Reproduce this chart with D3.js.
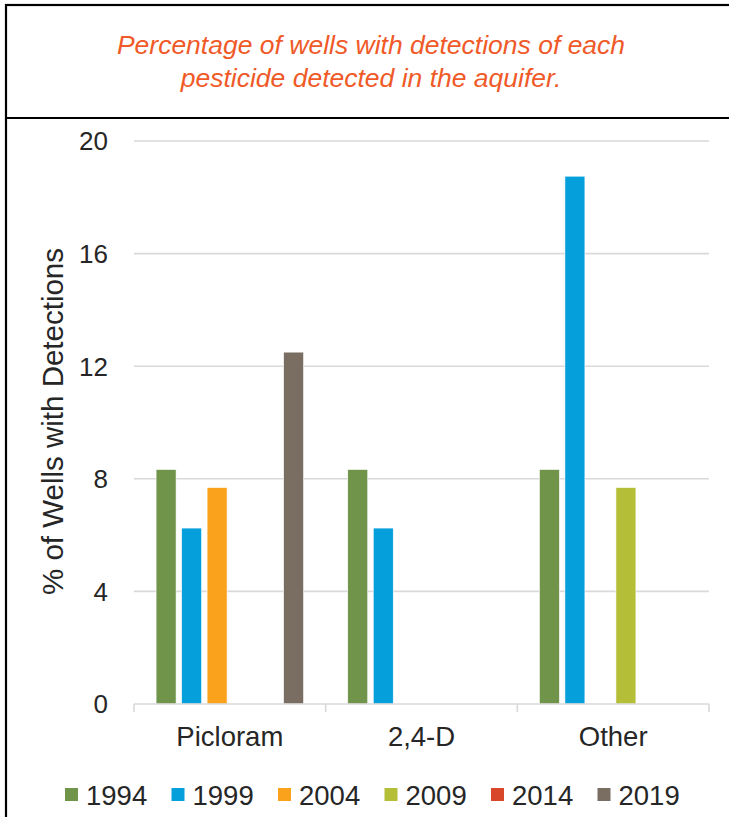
<!DOCTYPE html>
<html>
<head>
<meta charset="utf-8">
<script src="https://cdn.jsdelivr.net/npm/d3@7"></script>
<style>
  html, body { margin: 0; padding: 0; background: #fff; }
  svg { display: block; font-family: "Liberation Sans", Arial, sans-serif; }
</style>
</head>
<body>
<svg id="chart" width="729" height="817"></svg>
<script>
const titleLines = ["Percentage of wells with detections of each", "pesticide detected in the aquifer."];
const categories = ["Picloram", "2,4-D", "Other"];
const years = ["1994", "1999", "2004", "2009", "2014", "2019"];
const colors = ["#70944a", "#059fdb", "#faa21b", "#b4bf37", "#d9472b", "#7a6e63"];
const values1994 = [8.33, 8.33, 8.33];
const values1999 = [6.25, 6.25, 18.75];
const values2004 = [7.69, 0, 0];
const values2009 = [0, 0, 7.69];
const values2014 = [0, 0, 0];
const values2019 = [12.5, 0, 0];
const yTicks = [0, 4, 8, 12, 16, 20];
const yTitle = "% of Wells with Detections";

const series = [values1994, values1999, values2004, values2009, values2014, values2019];

const svg = d3.select("#chart");

// Frame
svg.append("rect").attr("x", 6).attr("y", 5).attr("width", 740).attr("height", 830)
  .attr("fill", "none").attr("stroke", "#000").attr("stroke-width", 2.2);
svg.append("line").attr("x1", 6).attr("x2", 740).attr("y1", 118).attr("y2", 118)
  .attr("stroke", "#000").attr("stroke-width", 2.2);

// Title
svg.append("g").selectAll("text").data(titleLines).join("text")
  .attr("x", 371).attr("y", (d, i) => 54 + i * 33)
  .attr("text-anchor", "middle")
  .attr("font-style", "italic").attr("font-size", 26.5)
  .attr("fill", "#f05a28")
  .text(d => d);

const plotLeft = 134, plotRight = 709, plotTop = 141, plotBottom = 704;

const x0 = d3.scaleBand().domain(categories).range([plotLeft, plotRight]).padding(0);
const x1 = d3.scaleBand().domain(years).range([0, x0.bandwidth()])
  .paddingInner(0.216).paddingOuter(0.866);
const y = d3.scaleLinear().domain([0, 20]).range([plotBottom, plotTop]);

// Gridlines
svg.append("g").selectAll("line").data(yTicks.filter(t => t > 0)).join("line")
  .attr("x1", plotLeft).attr("x2", plotRight)
  .attr("y1", d => y(d)).attr("y2", d => y(d))
  .attr("stroke", "#d9d9d9").attr("stroke-width", 1.6);

// Y tick labels
svg.append("g").selectAll("text").data(yTicks).join("text")
  .attr("x", 108).attr("y", d => y(d))
  .attr("dy", "0.36em")
  .attr("text-anchor", "end")
  .attr("font-size", 26).attr("fill", "#262626")
  .text(d => d);

// Bars
const barData = [];
categories.forEach((c, ci) => {
  years.forEach((yr, yi) => {
    barData.push({ cat: c, year: yr, value: series[yi][ci], color: colors[yi] });
  });
});
svg.append("g").selectAll("rect").data(barData.filter(d => d.value > 0)).join("rect")
  .attr("x", d => x0(d.cat) + x1(d.year))
  .attr("width", x1.bandwidth())
  .attr("y", d => y(d.value))
  .attr("height", d => y(0) - y(d.value))
  .attr("fill", d => d.color)
  .attr("stroke", "#fff").attr("stroke-width", 0.6);

// X axis
const xAxisG = svg.append("g");
xAxisG.append("line").attr("x1", plotLeft).attr("x2", plotRight).attr("y1", plotBottom).attr("y2", plotBottom)
  .attr("stroke", "#d9d9d9").attr("stroke-width", 1.6);
const boundaries = categories.map(c => x0(c)).concat([x0(categories[categories.length - 1]) + x0.bandwidth()]);
xAxisG.selectAll("line.tick").data(boundaries).join("line").attr("class", "tick")
  .attr("x1", d => d).attr("x2", d => d).attr("y1", plotBottom).attr("y2", plotBottom + 8)
  .attr("stroke", "#d9d9d9").attr("stroke-width", 1.6);
xAxisG.selectAll("text").data(categories).join("text")
  .attr("x", d => x0(d) + x0.bandwidth() / 2)
  .attr("y", 746)
  .attr("text-anchor", "middle")
  .attr("font-size", 27.5).attr("fill", "#262626")
  .text(d => d);

// Y title
svg.append("text")
  .attr("transform", `translate(63, ${(plotTop + plotBottom) / 2 - 1}) rotate(-90)`)
  .attr("text-anchor", "middle")
  .attr("font-size", 29.5).attr("fill", "#262626")
  .text(yTitle);

// Legend
const legend = svg.append("g").selectAll("g").data(years).join("g")
  .attr("transform", (d, i) => `translate(${65 + i * 106.5}, 795)`);
legend.append("rect").attr("x", 0).attr("y", -7).attr("width", 13).attr("height", 13)
  .attr("fill", (d, i) => colors[i]);
legend.append("text").attr("x", 21).attr("y", 0).attr("dy", "0.36em")
  .attr("font-size", 27.5).attr("fill", "#262626")
  .text(d => d);
</script>
</body>
</html>
